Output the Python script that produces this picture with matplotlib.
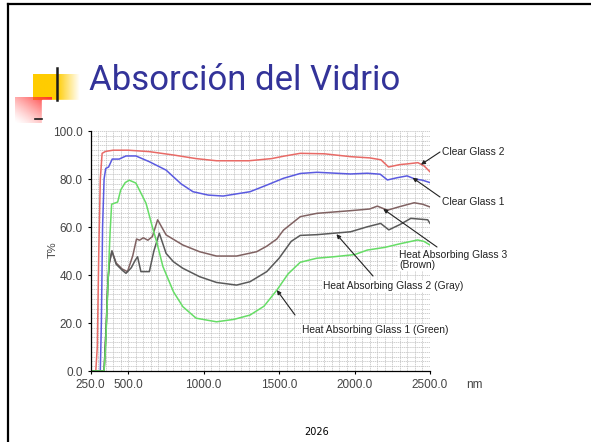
#!/usr/bin/env python3

import numpy as np
from matplotlib import pyplot as plt
from matplotlib.ticker import MultipleLocator

# transmission curves (wavelength nm, T%)
red_nm = [250, 285, 295, 305, 315, 327, 350, 400, 500, 640, 800, 950, 1085, 1300, 1450, 1530,
          1640, 1800, 1975, 2100, 2175, 2200, 2225, 2300, 2350, 2420, 2460, 2500]
red_t = [0, 0, 10, 50, 80, 90.7, 91.5, 92, 92, 91.4, 90, 88.5, 87.6, 87.6, 88.5, 89.5,
         90.7, 90.5, 89.3, 88.8, 88, 86.5, 85, 86, 86.3, 86.8, 85.5, 83]

blue_nm = [250, 315, 322, 330, 340, 351, 370, 394, 440, 485, 551, 640, 751, 850, 929, 1030,
           1129, 1307, 1420, 1529, 1640, 1751, 1973, 2085, 2170, 2218, 2280, 2348, 2400, 2450, 2500]
blue_t = [0, 0, 20, 60, 80, 84.4, 85, 88.3, 88.3, 89.6, 89.6, 87.2, 83.7, 78, 74.7, 73.3,
          72.9, 74.7, 77.5, 80.3, 82.3, 82.8, 82.1, 82.4, 82, 79.6, 80.5, 81.3, 80, 79.5, 78.5]

green_nm = [250, 340, 350, 365, 380, 390, 430, 450, 480, 507, 551, 618, 660, 690, 730, 800,
            862, 950, 1085, 1200, 1307, 1400, 1485, 1560, 1640, 1750, 1862, 2000, 2085, 2200,
            2300, 2418, 2460, 2500]
green_t = [0, 0, 10, 35, 58, 69.5, 70.4, 75.4, 78.5, 79.5, 78.3, 69.9, 60, 53.5, 43.5, 33,
           26.8, 22, 20.5, 21.5, 23.3, 27, 33.7, 40.5, 45.3, 47, 47.6, 48.5, 50.4, 51.5,
           53, 54.6, 54, 52.5]

gray_nm = [250, 340, 355, 365, 375, 392, 420, 460, 485, 520, 545, 562, 584, 640, 670, 706,
           751, 800, 862, 973, 1085, 1218, 1307, 1418, 1500, 1580, 1640, 1750, 1862, 1973,
           2085, 2173, 2227, 2300, 2373, 2485, 2500]
gray_t = [0, 0, 20, 37, 45, 50, 44.5, 42, 40.7, 43, 46, 47.6, 41.4, 41.4, 50, 57.4,
          49, 45.5, 42.8, 39.3, 36.9, 35.8, 37.2, 41.4, 47, 54, 56.5, 56.8, 57.4, 58,
          60.1, 61.5, 58.8, 61, 63.6, 63, 61.5]

brown_nm = [250, 340, 355, 365, 375, 392, 420, 460, 495, 530, 555, 575, 600, 630, 660, 695,
            751, 862, 973, 1085, 1218, 1351, 1418, 1485, 1529, 1640, 1751, 1973, 2100, 2151,
            2218, 2300, 2395, 2450, 2507]
brown_t = [0, 0, 20, 37, 45, 50, 45, 42.5, 41.4, 48, 55, 54.5, 55.5, 54.5, 56, 63,
           56.7, 52.5, 49.7, 47.9, 47.9, 49.7, 52, 55, 58.7, 64.3, 65.7, 66.8, 67.5, 68.7,
           67, 68.5, 70.1, 69.5, 68.2]

x_ticks = [250, 500, 1000, 1500, 2000, 2500]
y_ticks = [0, 20, 40, 60, 80, 100]

W, H = 591, 442
fig = plt.figure(figsize=(W / 100, H / 100), dpi=100)

# slide background drawn in pixel coordinates
bg = fig.add_axes([0, 0, 1, 1])
bg.set_axis_off()

# yellow square fading to the right
yel = np.ones((10, 100, 4))
yel[..., :3] = (1.0, 0.8, 0.0)
xs = np.linspace(33, 80, 100)
yel[..., 3] = np.clip((80 - xs) / (80 - 57), 0, 1)
bg.imshow(yel, extent=(33, 80, 100, 74), origin='upper', aspect='auto', zorder=1)

# red square, strong at top right
xf, yf = np.meshgrid(np.linspace(0, 1, 60), np.linspace(0, 1, 40))
red = np.ones((40, 60, 4))
red[..., :3] = (1.0, 0.2, 0.2)
red[..., 3] = np.clip(0.5 * xf + 0.5 * (1 - yf), 0, 1) ** 1.3
bg.imshow(red, extent=(15, 52, 123, 97), origin='upper', aspect='auto', zorder=2)

# white panel of the pasted chart image
bg.add_patch(plt.Rectangle((42, 100), 440, 300, color='white', zorder=3))
bg.plot([57, 57], [68, 100], color='#1a1a1a', lw=1.8, zorder=4)
bg.plot([35, 42], [119, 119], color='#1a1a1a', lw=1.2, zorder=4)

# slide frame
bg.plot([8, 8], [4, H], color='black', lw=1.6, zorder=5)
bg.plot([8, W], [4, 4], color='black', lw=1.6, zorder=5)
bg.set_xlim(0, W)
bg.set_ylim(H, 0)

fig.text(89 / W, 1 - 90 / H, 'Absorción del Vidrio', fontsize=25, color='#333399',
         family='Roboto', va='baseline', ha='left')
fig.text(317 / W, 1 - 432 / H, '2026', fontsize=7, color='black',
         family='DejaVu Sans', va='center', ha='center')

# the chart itself
ax = fig.add_axes([90.5 / W, 71 / H, (430 - 90.5) / W, 240 / H])
ax.plot(red_nm, red_t, color='#e86a66', lw=1.1)
ax.plot(blue_nm, blue_t, color='#5a5ae0', lw=1.1)
ax.plot(brown_nm, brown_t, color='#806262', lw=1.1)
ax.plot(gray_nm, gray_t, color='#5a5a5a', lw=1.1)
ax.plot(green_nm, green_t, color='#66dd66', lw=1.1)

ax.set_xlim(250, 2500)
ax.set_ylim(0, 100)
ax.set_xticks(x_ticks)
ax.set_xticklabels(['%.1f' % v for v in x_ticks])
ax.set_yticks(y_ticks)
ax.set_yticklabels(['%.1f' % v for v in y_ticks])
ax.xaxis.set_minor_locator(MultipleLocator(50))
ax.yaxis.set_minor_locator(MultipleLocator(2))
ax.grid(which='both', color='#bdbdbd', lw=0.5, ls=(0, (2, 1)))
ax.set_axisbelow(True)
ax.tick_params(which='major', length=2.5, width=0.8, pad=3, labelsize=8.5,
               labelcolor='#444444', labelfontfamily='Liberation Sans')
ax.tick_params(which='minor', length=0)
for side in ['top', 'right']:
    ax.spines[side].set_visible(False)
for side in ['left', 'bottom']:
    ax.spines[side].set_linewidth(0.9)

fig.text(53 / W, 1 - 250 / H, 'T%', rotation=90, fontsize=8, color='#444444',
         family='Liberation Sans', ha='center', va='center')
fig.text(466 / W, 1 - 385 / H, 'nm', fontsize=8.5, color='#444444',
         family='Liberation Sans', ha='left', va='center')

# labels with arrows pointing at the curves
labels = [
    ('Clear Glass 2', (442, 152), (440, 152), (2440, 86)),
    ('Clear Glass 1', (442, 202), (440, 197), (2385, 80.5)),
    ('Heat Absorbing Glass 3\n(Brown)', (399, 260), (437, 247), (2190, 67.5)),
    ('Heat Absorbing Glass 2 (Gray)', (323, 286), (373, 276), (1880, 57)),
    ('Heat Absorbing Glass 1 (Green)', (302, 330), (295, 315), (1485, 33.7)),
]
for text, (tx, ty), (ax_, ay_), head in labels:
    ax.annotate('', xy=head, xytext=(ax_, H - ay_), textcoords='figure pixels',
                arrowprops=dict(arrowstyle='-|>', color='#222222', lw=0.8,
                                mutation_scale=6, shrinkA=0, shrinkB=0),
                annotation_clip=False)
    fig.text(tx / W, 1 - ty / H, text, fontsize=7.4, color='#222222',
             family='Liberation Sans', ha='left', va='center', linespacing=1.0,
             bbox=dict(facecolor='white', edgecolor='none', pad=1))

plt.savefig('out.png', dpi=100)
